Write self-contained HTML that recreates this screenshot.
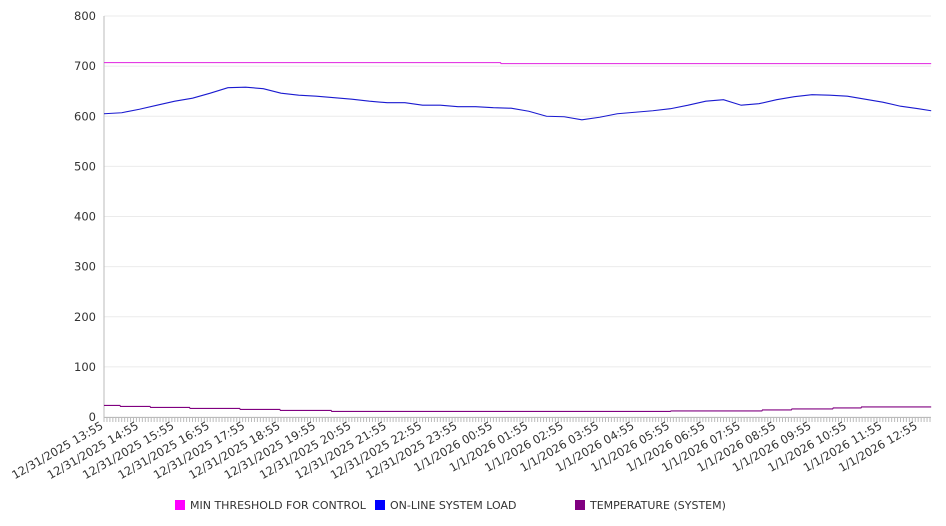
<!DOCTYPE html>
<html><head><meta charset="utf-8"><style>
body{margin:0;background:#fff;}
svg{display:block;font-family:"DejaVu Sans","Liberation Sans",sans-serif;}
</style></head><body>
<svg id="chart" width="946" height="526" viewBox="0 0 946 526">
<g id="grid"></g>
<g id="yaxis"></g>
<g id="xaxis"></g>
<g id="series"></g>
<g id="legend"></g>
</svg>
<script>
const yTicks=[0,100,200,300,400,500,600,700,800];
const xLabels=["12/31/2025 13:55","12/31/2025 14:55","12/31/2025 15:55","12/31/2025 16:55","12/31/2025 17:55","12/31/2025 18:55","12/31/2025 19:55","12/31/2025 20:55","12/31/2025 21:55","12/31/2025 22:55","12/31/2025 23:55","1/1/2026 00:55","1/1/2026 01:55","1/1/2026 02:55","1/1/2026 03:55","1/1/2026 04:55","1/1/2026 05:55","1/1/2026 06:55","1/1/2026 07:55","1/1/2026 08:55","1/1/2026 09:55","1/1/2026 10:55","1/1/2026 11:55","1/1/2026 12:55"];
const loadMinutes=[0,30,60,90,120,150,180,210,240,270,300,330,360,390,420,450,480,510,540,570,600,630,660,690,720,750,780,810,840,870,900,930,960,990,1020,1050,1080,1110,1140,1170,1200,1230,1260,1290,1320,1350,1380,1402];
const loadValues=[605,607,614,622,630,636,646,657,658,655,646,642,640,637,634,630,627,627,622,622,619,619,617,616,610,600,599,593,598,605,608,611,615,622,630,633,622,625,633,639,643,642,640,634,628,620,615,611];
const thrMinutes=[0,672,673,1402];
const thrValues=[707,707,705,705];
const tempMinutes=[0,27,28,78,79,145,146,230,231,298,299,385,386,960,961,1115,1116,1165,1166,1235,1236,1283,1284,1402];
const tempValues=[23,23,21,21,19,19,17,17,15,15,13,13,11,11,12,12,14,14,16,16,18,18,20,20];
const L=104,R=931,T=16,B=417,PXH=35.4,MAXM=1402;
const NS="http://www.w3.org/2000/svg";
const xS=m=>L+m/60*PXH;
const yS=v=>B-(v/800)*(B-T);
function mk(tag,attrs,parent){const e=document.createElementNS(NS,tag);for(const k in attrs)e.setAttribute(k,attrs[k]);parent.appendChild(e);return e;}
const grid=document.getElementById('grid'),ya=document.getElementById('yaxis'),xa=document.getElementById('xaxis'),se=document.getElementById('series'),lg=document.getElementById('legend');
yTicks.forEach(v=>{
 const g=mk('line',{x1:L,x2:R,y1:yS(v),y2:yS(v),stroke:'#ebebeb','stroke-width':1},grid);
 
 
 const t=mk('text',{x:96,y:yS(v)+4,'text-anchor':'end','font-size':11.5,fill:'#333'},ya);
 t.textContent=v;
 
 
});
mk('line',{x1:L,x2:L,y1:T,y2:B,stroke:'#bbb'},ya);
mk('line',{x1:L,x2:R,y1:B+0.5,y2:B+0.5,stroke:'#bbb'},xa);
for(let m=0;m<=MAXM;m+=5){mk('line',{x1:xS(m),x2:xS(m),y1:B,y2:B+5,stroke:'#bbb'},xa);}
xLabels.forEach((s,i)=>{
 const x=xS(i*60);
 const t=mk('text',{x:0,y:0,'text-anchor':'end','font-size':11.5,fill:'#333',transform:`translate(${x},${B+11}) rotate(-30)`},xa);
 t.textContent=s;
 
 
});
function line(ms,vs,color,name){
 const p=mk('polyline',{points:ms.map((m,i)=>xS(m)+','+yS(vs[i])).join(' '),fill:'none',stroke:color,'stroke-width':1.1},se);
 
 
}
line(thrMinutes,thrValues,'#e020e0','min-threshold-line');
line(loadMinutes,loadValues,'#1a1ad0','system-load-line');
line(tempMinutes,tempValues,'#800080','temperature-line');
const leg=[["MIN THRESHOLD FOR CONTROL","#ff00ff",175],["ON-LINE SYSTEM LOAD","#0000ff",375],["TEMPERATURE (SYSTEM)","#800080",575]];
leg.forEach(([n,c,x])=>{
 const g=mk('g',{},lg);
 
 
 mk('rect',{x:x,y:500,width:10,height:10,fill:c},g);
 const t=mk('text',{x:x+15,y:509,'font-size':11,fill:'#333'},g);t.textContent=n;
});
</script>
</body></html>
